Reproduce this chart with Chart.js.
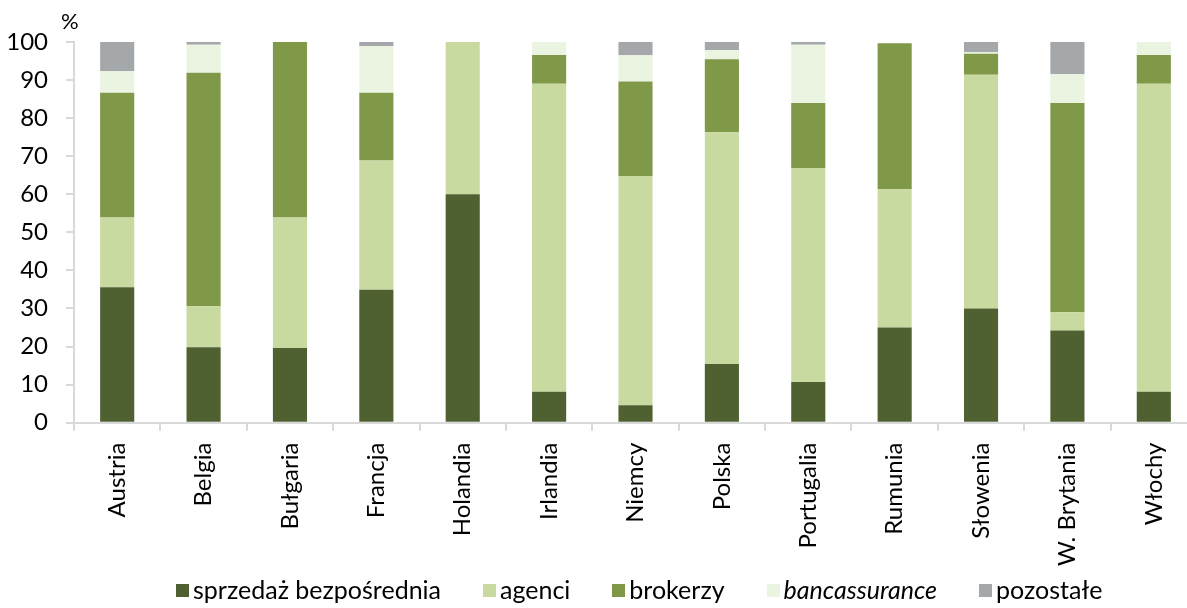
<!DOCTYPE html>
<html>
<head>
<meta charset="utf-8">
<script src="https://cdn.jsdelivr.net/npm/chart.js@4.4.1/dist/chart.umd.min.js"></script>
<style>
  html, body { margin: 0; padding: 0; background: #fff; overflow: hidden; }
  #wrap { position: relative; width: 1197px; height: 608px; font-family: Lato, sans-serif; }
  #box { position: absolute; left: 0; top: 0; width: 1197px; height: 578px; }
  #pct { position: absolute; left: 61px; top: 7px; font-size: 22px; color: #000; }
  #legend { position: absolute; left: 176px; top: 574px; display: flex; font-size: 25px; color: #000; white-space: nowrap; }
  #legend .item { display: flex; align-items: center; margin-right: 42px; }
  #legend .sw { width: 13px; height: 13px; margin-right: 4px; margin-top: 2px; }
</style>
</head>
<body>
<div id="wrap">
  <div id="box"><canvas id="chart"></canvas></div>
  <div id="pct">%</div>
  <div id="legend"></div>
</div>
<script>
const countries = ['Austria', 'Belgia', 'Bułgaria', 'Francja', 'Holandia', 'Irlandia', 'Niemcy',
  'Polska', 'Portugalia', 'Rumunia', 'Słowenia', 'W. Brytania', 'Włochy'];

const sprzedaz = [35.6, 19.8, 19.6, 34.9, 60.0, 8.1, 4.6, 15.4, 10.7, 25.0, 30.0, 24.2, 8.1];
const agenci = [18.3, 10.8, 34.3, 34.0, 40.0, 80.9, 60.2, 60.9, 56.2, 36.3, 61.4, 4.8, 80.9];
const brokerzy = [32.8, 61.3, 46.1, 17.8, 0, 7.6, 24.8, 19.2, 17.1, 38.4, 5.5, 55.0, 7.6];
const bancassurance = [5.7, 7.4, 0, 12.2, 0, 3.4, 6.9, 2.4, 15.3, 0, 0.4, 7.5, 3.4];
const pozostale = [7.6, 0.7, 0, 1.1, 0, 0, 3.5, 2.1, 0.7, 0, 2.7, 8.5, 0];

const yTicks = [0, 10, 20, 30, 40, 50, 60, 70, 80, 90, 100];

const series = [
  { label: 'sprzedaż bezpośrednia', data: sprzedaz, color: '#4f6131', italic: false },
  { label: 'agenci', data: agenci, color: '#c9daa1', italic: false },
  { label: 'brokerzy', data: brokerzy, color: '#7f9948', italic: false },
  { label: 'bancassurance', data: bancassurance, color: '#ebf3e1', italic: true },
  { label: 'pozostałe', data: pozostale, color: '#a5a8ab', italic: false }
];

const axisColor = '#d9d9d9';

new Chart(document.getElementById('chart'), {
  type: 'bar',
  data: {
    labels: countries,
    datasets: series.map(s => ({
      label: s.label,
      data: s.data,
      backgroundColor: s.color,
      borderWidth: 0,
      categoryPercentage: 1,
      barPercentage: 0.395
    }))
  },
  options: {
    responsive: true,
    maintainAspectRatio: false,
    animation: false,
    layout: { padding: { left: 0, top: 42, right: 0, bottom: 0 } },
    plugins: {
      legend: { display: false },
      tooltip: { enabled: false }
    },
    scales: {
      x: {
        stacked: true,
        grid: { drawOnChartArea: false, color: axisColor, tickLength: 8, lineWidth: 2, offset: true },
        border: { color: axisColor, width: 2 },
        ticks: {
          color: '#000',
          font: { family: 'Lato', size: 24 },
          minRotation: 90,
          maxRotation: 90,
          padding: 12,
          autoSkip: false
        }
      },
      y: {
        stacked: true,
        min: 0,
        max: 100,
        afterBuildTicks: axis => { axis.ticks = yTicks.map(v => ({ value: v })); },
        afterFit: axis => { axis.width = 74; },
        grid: { drawOnChartArea: false, color: axisColor, tickLength: 8, lineWidth: 2 },
        border: { color: axisColor, width: 2 },
        ticks: {
          color: '#000',
          font: { family: 'Lato', size: 24 },
          padding: 18
        }
      }
    }
  }
});

const legend = document.getElementById('legend');
series.forEach(s => {
  const item = document.createElement('div');
  item.className = 'item';
  const sw = document.createElement('span');
  sw.className = 'sw';
  sw.style.background = s.color;
  const txt = document.createElement('span');
  txt.textContent = s.label;
  if (s.italic) txt.style.fontStyle = 'italic';
  item.appendChild(sw);
  item.appendChild(txt);
  legend.appendChild(item);
});
</script>
</body>
</html>
